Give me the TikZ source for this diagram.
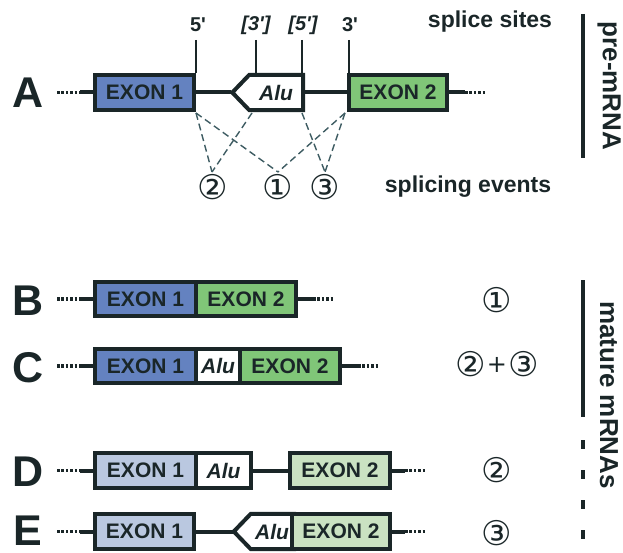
\documentclass[tikz,border=0pt]{standalone}
\usepackage{fontspec}
\setmainfont{Liberation Sans}
\newfontfamily\circfont{DejaVu Sans}
\usetikzlibrary{calc}
\definecolor{ink}{RGB}{26,38,40}
\definecolor{exblue}{RGB}{100,130,192}
\definecolor{exgreen}{RGB}{128,198,120}
\definecolor{lblue}{RGB}{186,200,224}
\definecolor{lgreen}{RGB}{202,226,194}
\definecolor{dashc}{RGB}{62,92,98}
\pgfdeclarelayer{bg}
\pgfsetlayers{bg,main}
\begin{document}
\begin{tikzpicture}[x=1pt,y=-1pt,
  box/.style={draw=ink,line width=4pt,minimum height=35pt,inner sep=0pt,
    font=\fontsize{21}{21}\selectfont\bfseries,text=ink},
  alutxt/.style={minimum height=35pt,inner sep=0pt,
    font=\fontsize{21}{21}\selectfont\bfseries\itshape,text=ink},
  aluline/.style={draw=ink,line width=4pt,fill=white,line join=miter},
  rna/.style={draw=ink,line width=4pt},
  dotsline/.style={draw=ink,line width=3.5pt,dash pattern=on 2.6pt off 1.8pt},
  tick/.style={draw=ink,line width=1.6pt},
  sitelbl/.style={font=\fontsize{20}{20}\selectfont\bfseries,text=ink,inner sep=0pt},
  sitelbli/.style={font=\fontsize{20}{20}\selectfont\bfseries\itshape,text=ink,inner sep=0pt},
  splice/.style={draw=dashc,line width=1.4pt,dash pattern=on 7pt off 4pt},
  circnum/.style={font=\fontsize{34}{34}\selectfont\circfont,text=ink,inner sep=0pt},
  rowlbl/.style={font=\fontsize{43}{43}\selectfont\bfseries,text=ink,inner sep=0pt,anchor=base},
  note/.style={font=\fontsize{23}{23}\selectfont\bfseries,text=ink,inner sep=0pt},
  sidelbl/.style={font=\fontsize{26}{26}\selectfont\bfseries,text=ink,inner sep=0pt,rotate=-90},
  bar/.style={draw=ink,line width=4pt}
]
\useasboundingbox (0,0) rectangle (623,553);

% ---------------- Row A ----------------
\node[rowlbl] (lblA) at (28,108) {A};
\node[box,fill=exblue,minimum width=99pt] (e1A) at (144.5,92.5) {EXON 1};
\node[alutxt,minimum width=51pt] (aluA) at (276,92.5) {Alu};
\begin{pgfonlayer}{bg}
\draw[aluline] ([xshift=1.5pt]aluA.north east) -- ([xshift=-1pt]aluA.north west) -- ([xshift=-18pt]aluA.west) -- ([xshift=-1pt]aluA.south west) -- ([xshift=1.5pt]aluA.south east) -- cycle;
\end{pgfonlayer}
\coordinate (tipA) at ($(aluA.west)+(-19,0)$);
\node[box,fill=exgreen,minimum width=98pt] (e2A) at (398,92.5) {EXON 2};
\coordinate (lA1) at (57,92.5); \coordinate (lA2) at (80,92.5);
\coordinate (rA1) at (465,92.5); \coordinate (rA2) at (485,92.5);
\draw[dotsline] (lA1) -- (lA2);
\draw[rna] (lA2) -- (e1A.west);
\draw[rna] (e1A.east) -- (tipA);
\draw[rna] ([xshift=1.5pt]aluA.east) -- (e2A.west);
\draw[rna] (e2A.east) -- (rA1);
\draw[dotsline] (rA1) -- (rA2);

% splice site ticks
\node[sitelbl] (s5) at (198,25) {5\textquotesingle};
\node[sitelbli] (s3a) at (256,25) {[3\textquotesingle]};
\node[sitelbli] (s5a) at (303,25) {[5\textquotesingle]};
\node[sitelbl] (s3) at (350,25) {3\textquotesingle};
\coordinate (t5) at (196,40); \coordinate (t3a) at (256,40);
\coordinate (t5a) at (302,40); \coordinate (t3) at (349,40);
\coordinate (b5) at (196,73); \coordinate (b3a) at (256,73);
\coordinate (b5a) at (302,73); \coordinate (b3) at (349,73);
\draw[tick] (t5) -- (b5);
\draw[tick] (t3a) -- (b3a);
\draw[tick] (t5a) -- (b5a);
\draw[tick] (t3) -- (b3);
\node[note] (sslbl) at (490,22) {splice sites};

% splicing events
\coordinate (d5) at (196,113); \coordinate (d3a) at (252,113);
\coordinate (d5a) at (302,113); \coordinate (d3) at (345,113);
\node[circnum] (ev2) at (213,187) {②};
\node[circnum] (ev1) at (278,187) {①};
\node[circnum] (ev3) at (325,187) {③};
\coordinate (ev2t) at (212,172); \coordinate (ev1t) at (278,172); \coordinate (ev3t) at (325,172);
\draw[splice] (d5) -- (ev2t);
\draw[splice] (d3a) -- (ev2t);
\draw[splice] (d5) -- (ev1t);
\draw[splice] (d3) -- (ev1t);
\draw[splice] (d5a) -- (ev3t);
\draw[splice] (d3) -- (ev3t);
\node[note] (evlbl) at (468,187) {splicing events};

% pre-mRNA bar
\coordinate (pb1) at (583,14); \coordinate (pb2) at (583,158);
\draw[bar] (pb1) -- (pb2);
\node[sidelbl] (prelbl) at (609,86) {pre-mRNA};

% ---------------- Row B ----------------
\node[rowlbl] (lblB) at (28,315) {B};
\node[box,fill=exblue,minimum width=101pt,minimum height=34pt] (e1B) at (145.5,299) {EXON 1};
\node[box,fill=exgreen,minimum width=100pt,minimum height=34pt] (e2B) at (246,299) {EXON 2};
\coordinate (lB1) at (57,299); \coordinate (lB2) at (80,299);
\coordinate (rB1) at (313,299); \coordinate (rB2) at (333,299);
\draw[dotsline] (lB1) -- (lB2);
\draw[rna] (lB2) -- (e1B.west);
\draw[rna] (e2B.east) -- (rB1);
\draw[dotsline] (rB1) -- (rB2);
\node[circnum] (cB) at (497,300) {①};

% ---------------- Row C ----------------
\node[rowlbl] (lblC) at (28,382) {C};
\node[box,fill=exblue,minimum width=101pt,minimum height=34pt] (e1C) at (145.5,366) {EXON 1};
\node[box,fill=white,minimum width=44pt,minimum height=34pt,font=\fontsize{21}{21}\selectfont\bfseries\itshape] (aluC) at (218,366) {Alu};
\node[box,fill=exgreen,minimum width=100pt,minimum height=34pt] (e2C) at (290,366) {EXON 2};
\coordinate (lC1) at (57,366); \coordinate (lC2) at (80,366);
\coordinate (rC1) at (358,366); \coordinate (rC2) at (378,366);
\draw[dotsline] (lC1) -- (lC2);
\draw[rna] (lC2) -- (e1C.west);
\draw[rna] (e2C.east) -- (rC1);
\draw[dotsline] (rC1) -- (rC2);
\node[circnum] (cC) at (497,364) {②\kern1pt\raisebox{4pt}{\fontsize{24}{24}\selectfont+}\kern1pt③};

% mature bar
\coordinate (mb1) at (583,280); \coordinate (mb2) at (583,417);
\coordinate (mb3) at (583,440); \coordinate (mb4) at (583,553);
\draw[bar] (mb1) -- (mb2);
\draw[bar,dash pattern=on 9pt off 21pt] (mb3) -- (mb4);
\node[sidelbl] (matlbl) at (609,395) {mature mRNAs};

% ---------------- Row D ----------------
\node[rowlbl] (lblD) at (28,486) {D};
\node[box,fill=lblue,minimum width=101pt] (e1D) at (145.5,470.5) {EXON 1};
\node[box,fill=white,minimum width=55pt,font=\fontsize{21}{21}\selectfont\bfseries\itshape] (aluD) at (223.5,470.5) {Alu};
\node[box,fill=lgreen,minimum width=100pt] (e2D) at (340,470.5) {EXON 2};
\coordinate (lD1) at (57,470.5); \coordinate (lD2) at (80,470.5);
\coordinate (rD1) at (405,470.5); \coordinate (rD2) at (425,470.5);
\draw[dotsline] (lD1) -- (lD2);
\draw[rna] (lD2) -- (e1D.west);
\draw[rna] (aluD.east) -- (e2D.west);
\draw[rna] (e2D.east) -- (rD1);
\draw[dotsline] (rD1) -- (rD2);
\node[circnum] (cD) at (497,470) {②};

% ---------------- Row E ----------------
\node[rowlbl] (lblE) at (28,545) {E};
\node[box,fill=lblue,minimum width=99pt] (e1E) at (144.5,531.5) {EXON 1};
\node[alutxt,minimum width=40pt] (aluE) at (272,531.5) {Alu};
\begin{pgfonlayer}{bg}
\draw[aluline] ([xshift=2pt]aluE.north east) -- ([xshift=-1pt]aluE.north west) -- ([xshift=-18pt]aluE.west) -- ([xshift=-1pt]aluE.south west) -- ([xshift=2pt]aluE.south east) -- cycle;
\end{pgfonlayer}
\coordinate (tipE) at ($(aluE.west)+(-19,0)$);
\node[box,fill=lgreen,minimum width=98pt] (e2E) at (341,531.5) {EXON 2};
\coordinate (lE1) at (57,531.5); \coordinate (lE2) at (80,531.5);
\coordinate (rE1) at (405,531.5); \coordinate (rE2) at (425,531.5);
\draw[dotsline] (lE1) -- (lE2);
\draw[rna] (lE2) -- (e1E.west);
\draw[rna] (e1E.east) -- (tipE);
\draw[rna] (e2E.east) -- (rE1);
\draw[dotsline] (rE1) -- (rE2);
\node[circnum] (cE) at (497,533) {③};
\end{tikzpicture}
\end{document}
